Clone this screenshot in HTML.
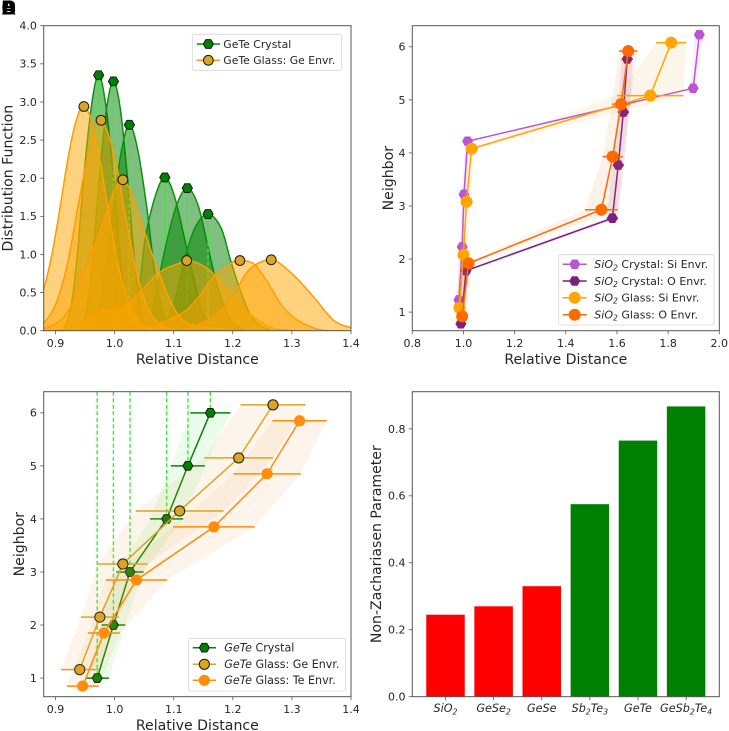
<!DOCTYPE html>
<html lang="en">
<head>
<meta charset="utf-8">
<title>Distribution and Non-Zachariasen Parameter Charts</title>
<style>
html,body{margin:0;padding:0;background:#fff;}
#fig{display:block;width:729px;height:731px;font-family:"DejaVu Sans","Liberation Sans",sans-serif;filter:blur(0.35px);}
</style>
</head>
<body>
<svg id="fig" xmlns="http://www.w3.org/2000/svg" width="729" height="731" viewBox="0 0 729 731"></svg>
<script>
/* ---------- Panel A data: distribution curves ---------- */
const crystalCurveX = [
  [.914,.921,.929,.938,.948,.961,.973,.985,.998,1.008,1.017,1.025,1.032],
  [.94,.948,.956,.964,.974,.986,.998,1.01,1.022,1.032,1.041,1.049,1.056],
  [.959,.967,.975,.985,.998,1.012,1.025,1.039,1.054,1.066,1.077,1.087,1.097],
  [1.015,1.025,1.033,1.043,1.052,1.069,1.085,1.101,1.118,1.135,1.147,1.158,1.169],
  [1.043,1.053,1.063,1.073,1.087,1.105,1.123,1.141,1.157,1.173,1.189,1.203,1.218],
  [1.071,1.083,1.093,1.105,1.118,1.136,1.158,1.18,1.196,1.214,1.23,1.246,1.263]
];
const crystalCurveY = [
  [.037,.147,.453,1.09,2.03,2.96,3.35,2.96,2.03,1.09,.453,.147,.037],
  [.036,.144,.442,1.06,1.98,2.89,3.27,2.89,1.98,1.06,.442,.144,.036],
  [.03,.119,.365,.877,1.64,2.38,2.70,2.38,1.64,.877,.365,.119,.03],
  [.022,.088,.272,.653,1.22,1.77,2.01,1.77,1.22,.653,.272,.088,.022],
  [.021,.082,.253,.607,1.13,1.65,1.87,1.65,1.13,.607,.253,.082,.021],
  [.017,.067,.207,.497,.928,1.35,1.53,1.35,.928,.497,.207,.067,.017]
];
const glassCurveX = [
  [.87,.88,.89,.90,.91,.92,.93,.94,.948,.96,.97,.98,.99,1.0,1.01,1.02,1.03,1.04,1.05,1.06,1.08],
  [.87,.88,.90,.92,.94,.96,.977,1.0,1.02,1.04,1.06,1.08,1.10,1.12],
  [.87,.89,.913,.93,.947,.965,.98,1.0,1.014,1.03,1.048,1.065,1.082,1.095,1.11,1.125,1.14,1.16,1.2],
  [.90,.93,.95,.97,.99,1.01,1.03,1.05,1.07,1.088,1.105,1.122,1.145,1.167,1.2,1.235,1.27,1.31],
  [1.0,1.03,1.065,1.095,1.122,1.145,1.167,1.2,1.212,1.235,1.257,1.285,1.313,1.35,1.39],
  [1.09,1.124,1.158,1.18,1.2,1.228,1.265,1.30,1.336,1.37,1.4,1.42]
];
const glassCurveY = [
  [.38,.55,.86,1.26,1.73,2.21,2.61,2.87,2.94,2.79,2.46,2.02,1.54,1.10,.72,.44,.25,.13,.065,.03,0],
  [.06,.10,.34,.87,1.71,2.49,2.76,2.29,1.44,.68,.24,.065,.01,0],
  [.01,.05,.17,.38,.75,1.1,1.4,1.85,1.98,1.78,1.36,.97,.62,.38,.18,.09,.06,.04,.01],
  [0,.04,.14,.25,.27,.29,.40,.56,.73,.82,.87,.92,.87,.75,.45,.18,.03,0],
  [0,.01,.07,.16,.27,.47,.70,.90,.92,.88,.66,.31,.12,.01,0],
  [0,.03,.14,.27,.45,.80,.93,.75,.45,.14,.04,.01]
];
const crystalPeakX = [.973,.998,1.025,1.085,1.123,1.158];
const crystalPeakY = [3.35,3.27,2.70,2.01,1.87,1.53];
const glassPeakX = [.948,.977,1.014,1.122,1.212,1.265];
const glassPeakY = [2.94,2.76,1.98,.92,.92,.93];
const panelAXTicks = [0.9,1.0,1.1,1.2,1.3,1.4];
const panelAYTicks = [0,0.5,1,1.5,2,2.5,3,3.5,4];

/* ---------- Panel B data: SiO2 neighbors ---------- */
const sioCrystalSiX = [.982,.995,1.002,1.016,1.898,1.922];
const sioCrystalSiY = [1.23,2.23,3.22,4.22,5.22,6.23];
const sioCrystalSiErr = [.01,.01,.008,.01,.012,.018];
const sioCrystalOX = [.99,1.01,1.582,1.605,1.625,1.64];
const sioCrystalOY = [.78,1.78,2.77,3.77,4.77,5.77];
const sioCrystalOErr = [.01,.012,.022,.022,.022,.022];
const sioGlassSiX = [.984,1.0,1.012,1.032,1.73,1.812];
const sioGlassSiY = [1.08,2.08,3.08,4.08,5.08,6.08];
const sioGlassSiErr = [.012,.015,.012,.015,.13,.059];
const sioGlassOX = [.995,1.02,1.539,1.583,1.616,1.644];
const sioGlassOY = [.92,1.92,2.93,3.93,4.92,5.92];
const sioGlassOErr = [.015,.015,.064,.039,.036,.036];
const panelBXTicks = [0.8,1.0,1.2,1.4,1.6,1.8,2.0];
const neighborTicks = [1,2,3,4,5,6];

/* ---------- Panel C data: GeTe neighbors ---------- */
const geteCrystalX = [.9705,.998,1.026,1.088,1.124,1.162];
const geteCrystalY = [1,2,3,4,5,6];
const geteCrystalErr = [.02,.02,.023,.028,.029,.034];
const geteGlassGeX = [.941,.975,1.014,1.11,1.21,1.268];
const geteGlassGeY = [1.16,2.15,3.15,4.15,5.15,6.15];
const geteGlassGeErr = [.032,.032,.042,.0745,.058,.055];
const geteGlassTeX = [.946,.982,1.037,1.168,1.258,1.313];
const geteGlassTeY = [.85,1.85,2.85,3.85,4.85,5.85];
const geteGlassTeErr = [.027,.027,.052,.069,.057,.046];

/* ---------- Panel D data: bars ---------- */
const barCategories = ['SiO_2','GeSe_2','GeSe','Sb_2Te_3','GeTe','GeSb_2Te_4'];
const barValues = [.245,.27,.33,.575,.765,.867];
const barColors = ['#ff0000','#ff0000','#ff0000','#008000','#008000','#008000'];
const panelDYTicks = [0,0.2,0.4,0.6,0.8];

/* ---------- helpers ---------- */
const NS = 'http://www.w3.org/2000/svg';
const fig = document.getElementById('fig');
const TXT = '#262626';
const SPINE = '#555555';

function el(parent, tag, attrs) {
  const e = document.createElementNS(NS, tag);
  for (const k in attrs) e.setAttribute(k, attrs[k]);
  parent.appendChild(e);
  return e;
}
function named(e, name, interactive) {
  
  
  return e;
}
function group(parent, name) {
  return named(el(parent, 'g', {}), name, false);
}
function addSegments(t, label, italic, size) {
  /* "_" marks the next digit as a subscript */
  let i = 0;
  let pendingDy = 0;
  while (i < label.length) {
    if (label[i] === '_') {
      const s = el(t, 'tspan', {dy: size * 0.2, 'font-size': size * 0.7, 'font-style': italic ? 'italic' : 'normal'});
      s.textContent = label[i + 1];
      pendingDy = -size * 0.2;
      i += 2;
    } else {
      let j = i;
      while (j < label.length && label[j] !== '_') j++;
      const s = el(t, 'tspan', {dy: pendingDy, 'font-style': italic ? 'italic' : 'normal'});
      s.textContent = label.slice(i, j);
      pendingDy = 0;
      i = j;
    }
  }
  return pendingDy;
}
function label(parent, x, y, str, size, anchor, name, rotate) {
  const attrs = {x: x, y: y, 'font-size': size, 'text-anchor': anchor, fill: TXT};
  if (rotate) attrs.transform = 'rotate(-90 ' + x + ' ' + y + ')';
  const t = el(parent, 'text', attrs);
  t.textContent = str;
  
  
  return t;
}
function makeAxes(name, box, xMin, xMax, yMin, yMax) {
  const g = group(fig, name);
  const a = {
    g: g, box: box,
    x: v => box.l + (v - xMin) / (xMax - xMin) * (box.r - box.l),
    y: v => box.b - (v - yMin) / (yMax - yMin) * (box.b - box.t)
  };
  const cid = 'clip-' + name;
  const defs = el(g, 'defs', {});
  const cp = el(defs, 'clipPath', {id: cid});
  el(cp, 'rect', {x: box.l, y: box.t, width: box.r - box.l, height: box.b - box.t});
  a.plot = group(g, name + '-plot-area');
  a.plot.setAttribute('clip-path', 'url(#' + cid + ')');
  return a;
}
function finishAxes(a, name, xTicks, yTicks, xFmt, yFmt, xTitle, yTitle, yTitleX) {
  const b = a.box;
  const frame = el(a.g, 'rect', {x: b.l, y: b.t, width: b.r - b.l, height: b.b - b.t, fill: 'none', stroke: SPINE, 'stroke-width': 1});
  
  
  xTicks.forEach(v => {
    const px = a.x(v);
    const m = el(a.g, 'line', {x1: px, x2: px, y1: b.b, y2: b.b + 3.5, stroke: SPINE, 'stroke-width': 0.8});
    
    
    label(a.g, px, b.b + 16.3, xFmt(v), 11, 'middle', name + '-x-tick-label');
  });
  yTicks.forEach(v => {
    const py = a.y(v);
    const m = el(a.g, 'line', {x1: b.l - 3.5, x2: b.l, y1: py, y2: py, stroke: SPINE, 'stroke-width': 0.8});
    
    
    label(a.g, b.l - 6.8, py + 3.9, yFmt(v), 11, 'end', name + '-y-tick-label');
  });
  if (xTitle) label(a.g, (b.l + b.r) / 2, b.b + 33.3, xTitle, 14.1, 'middle', name + '-x-axis-title');
  if (yTitle) label(a.g, yTitleX, (b.t + b.b) / 2, yTitle, 14.1, 'middle', name + '-y-axis-title', true);
}
function smoothPath(pts) {
  let d = 'M' + pts[0][0].toFixed(2) + ' ' + pts[0][1].toFixed(2);
  for (let i = 0; i < pts.length - 1; i++) {
    const p0 = pts[Math.max(i - 1, 0)], p1 = pts[i], p2 = pts[i + 1], p3 = pts[Math.min(i + 2, pts.length - 1)];
    const c1x = p1[0] + (p2[0] - p0[0]) / 6, c1y = p1[1] + (p2[1] - p0[1]) / 6;
    const c2x = p2[0] - (p3[0] - p1[0]) / 6, c2y = p2[1] - (p3[1] - p1[1]) / 6;
    d += 'C' + c1x.toFixed(2) + ' ' + c1y.toFixed(2) + ' ' + c2x.toFixed(2) + ' ' + c2y.toFixed(2) + ' ' + p2[0].toFixed(2) + ' ' + p2[1].toFixed(2);
  }
  return d;
}
function hexPoints(cx, cy, r) {
  let s = '';
  for (let i = 0; i < 6; i++) {
    const t = Math.PI / 3 * i;
    s += (cx + r * Math.cos(t)).toFixed(2) + ',' + (cy + r * Math.sin(t)).toFixed(2) + ' ';
  }
  return s;
}
function marker(parent, shape, cx, cy, r, fill, edge, name) {
  let m;
  if (shape === 'hex') {
    m = el(parent, 'polygon', {points: hexPoints(cx, cy, r), fill: fill});
  } else {
    m = el(parent, 'circle', {cx: cx, cy: cy, r: r, fill: fill});
  }
  if (edge) {
    m.setAttribute('stroke', edge);
    m.setAttribute('stroke-width', 1);
  }
  
  
  return m;
}
function drawSeries(a, s) {
  const g = group(a.plot, s.name + '-series');
  /* shaded band between x-err and x+err */
  const left = s.xs.map((v, i) => a.x(v - s.err[i]).toFixed(2) + ',' + a.y(s.ys[i]).toFixed(2));
  const right = s.xs.map((v, i) => a.x(v + s.err[i]).toFixed(2) + ',' + a.y(s.ys[i]).toFixed(2)).reverse();
  const band = el(g, 'polygon', {points: left.concat(right).join(' '), fill: s.band, 'fill-opacity': s.bandOpacity});
  
  
  const ln = el(g, 'polyline', {points: s.xs.map((v, i) => a.x(v).toFixed(2) + ',' + a.y(s.ys[i]).toFixed(2)).join(' '), fill: 'none', stroke: s.line, 'stroke-width': 1.5});
  
  
  s.xs.forEach((v, i) => {
    const eb = el(g, 'line', {x1: a.x(v - s.err[i]), x2: a.x(v + s.err[i]), y1: a.y(s.ys[i]), y2: a.y(s.ys[i]), stroke: s.line, 'stroke-width': 1.5});
    
    
  });
  s.xs.forEach((v, i) => {
    marker(g, s.shape, a.x(v), a.y(s.ys[i]), s.r, s.fill, s.edge, s.name + '-point');
  });
}
function legend(name, box, rows, handleL, handleR, textX, size) {
  const g = group(fig, name);
  const r = el(g, 'rect', {x: box.l, y: box.t, width: box.r - box.l, height: box.b - box.t, rx: 2, fill: '#ffffff', 'fill-opacity': 0.85, stroke: '#d6d6d6', 'stroke-width': 0.8});
  
  
  rows.forEach(row => {
    const e = group(g, 'legend-entry');
    const l = el(e, 'line', {x1: handleL, x2: handleR, y1: row.y, y2: row.y, stroke: row.line, 'stroke-width': 1.5});
    
    
    marker(e, row.shape, (handleL + handleR) / 2, row.y, row.r, row.fill, row.edge, 'legend-marker');
    const t = el(e, 'text', {x: textX, y: row.y + 3.8, 'font-size': size, fill: TXT});
    
    
    let back = 0;
    if (row.math) back = addSegments(t, row.math, true, size);
    const rest = el(t, 'tspan', {dy: back});
    rest.textContent = row.text;
  });
}
const fmt1 = v => v.toFixed(1);
const fmtInt = v => String(v);

/* ---------- Panel A ---------- */
(function () {
  const a = makeAxes('panel-a', {l: 43.7, r: 351, t: 25.7, b: 330.7}, 0.88, 1.4, 0, 4);
  function area(xs, ys, fill, stroke, name, opacity) {
    const pts = xs.map((v, i) => [a.x(v), a.y(ys[i])]);
    const line = smoothPath(pts);
    const f = el(a.plot, 'path', {d: line + 'L' + pts[pts.length - 1][0].toFixed(2) + ' ' + a.y(0) + 'L' + pts[0][0].toFixed(2) + ' ' + a.y(0) + 'Z', fill: fill, 'fill-opacity': opacity});
    
    
    const s = el(a.plot, 'path', {d: line, fill: 'none', stroke: stroke, 'stroke-width': 1.5});
    
    
  }
  crystalCurveX.forEach((xs, i) => {
    area(xs, crystalCurveY[i], '#008000', '#0b940b', 'crystal-peak', 0.5);
    const d = el(a.plot, 'line', {x1: a.x(crystalPeakX[i]), x2: a.x(crystalPeakX[i]), y1: a.y(0), y2: a.y(crystalPeakY[i]), stroke: '#33ee33', 'stroke-width': 1.4, 'stroke-dasharray': '4 2.5'});
    
    
  });
  glassCurveX.forEach((xs, i) => {
    area(xs, glassCurveY[i], '#ffa500', '#ff9c00', 'glass-peak', 0.5);
  });
  crystalPeakX.forEach((v, i) => {
    marker(a.plot, 'hex', a.x(v), a.y(crystalPeakY[i]), 5.1, '#008000', '#1a1a1a', 'crystal-peak-point');
  });
  glassPeakX.forEach((v, i) => {
    marker(a.plot, 'circle', a.x(v), a.y(glassPeakY[i]), 4.9, '#daa520', '#1a1a1a', 'glass-peak-point');
  });
  finishAxes(a, 'panel-a', panelAXTicks, panelAYTicks, fmt1, fmt1, 'Relative Distance', 'Distribution Function', 12.5);
  legend('panel-a-legend', {l: 192.3, r: 341.7, t: 34.3, b: 70.3}, [
    {y: 44, line: '#0b940b', shape: 'hex', r: 5.1, fill: '#008000', edge: '#1a1a1a', text: 'GeTe Crystal'},
    {y: 60.3, line: '#ff9c00', shape: 'circle', r: 4.9, fill: '#daa520', edge: '#1a1a1a', text: 'GeTe Glass: Ge Envr.'}
  ], 196.7, 220, 223.3, 10.85);
})();

/* ---------- Panel B ---------- */
(function () {
  const a = makeAxes('panel-b', {l: 412.3, r: 719.3, t: 25.7, b: 330.7}, 0.8, 2.0, 0.6496, 6.398);
  drawSeries(a, {name: 'sio2-crystal-si', xs: sioCrystalSiX, ys: sioCrystalSiY, err: sioCrystalSiErr, line: '#ba55d3', fill: '#ba55d3', band: '#ba55d3', bandOpacity: 0.1, shape: 'hex', r: 5.5});
  drawSeries(a, {name: 'sio2-crystal-o', xs: sioCrystalOX, ys: sioCrystalOY, err: sioCrystalOErr, line: '#7d1f7d', fill: '#7d1f7d', band: '#7d1f7d', bandOpacity: 0.1, shape: 'hex', r: 5.5});
  drawSeries(a, {name: 'sio2-glass-si', xs: sioGlassSiX, ys: sioGlassSiY, err: sioGlassSiErr, line: '#ffa500', fill: '#ffa500', band: '#e0a030', bandOpacity: 0.1, shape: 'circle', r: 6});
  drawSeries(a, {name: 'sio2-glass-o', xs: sioGlassOX, ys: sioGlassOY, err: sioGlassOErr, line: '#ff6a00', fill: '#ff6a00', band: '#e08030', bandOpacity: 0.1, shape: 'circle', r: 6});
  finishAxes(a, 'panel-b', panelBXTicks, neighborTicks, fmt1, fmtInt, 'Relative Distance', 'Neighbor', 393);
  legend('panel-b-legend', {l: 558.7, r: 714, t: 254.7, b: 325}, [
    {y: 264.3, line: '#ba55d3', shape: 'hex', r: 5.5, fill: '#ba55d3', math: 'SiO_2', text: ' Crystal: Si Envr.'},
    {y: 281, line: '#7d1f7d', shape: 'hex', r: 5.5, fill: '#7d1f7d', math: 'SiO_2', text: ' Crystal: O Envr.'},
    {y: 297.7, line: '#ffa500', shape: 'circle', r: 6, fill: '#ffa500', math: 'SiO_2', text: ' Glass: Si Envr.'},
    {y: 314.7, line: '#ff6a00', shape: 'circle', r: 6, fill: '#ff6a00', math: 'SiO_2', text: ' Glass: O Envr.'}
  ], 562.7, 586.7, 594.3, 11);
})();

/* ---------- Panel C ---------- */
(function () {
  const a = makeAxes('panel-c', {l: 43.7, r: 351, t: 391.7, b: 696.7}, 0.88, 1.4, 0.6496, 6.398);
  crystalLines(a);
  drawSeries(a, {name: 'gete-crystal', xs: geteCrystalX, ys: geteCrystalY, err: geteCrystalErr, line: '#0a800a', fill: '#008000', edge: '#1a1a1a', band: '#33ee33', bandOpacity: 0.1, shape: 'hex', r: 5});
  drawSeries(a, {name: 'gete-glass-ge', xs: geteGlassGeX, ys: geteGlassGeY, err: geteGlassGeErr, line: '#daa520', fill: '#daa520', edge: '#1a1a1a', band: '#e8a040', bandOpacity: 0.1, shape: 'circle', r: 5.1});
  drawSeries(a, {name: 'gete-glass-te', xs: geteGlassTeX, ys: geteGlassTeY, err: geteGlassTeErr, line: '#ff8c0a', fill: '#ff8c0a', band: '#e8a040', bandOpacity: 0.1, shape: 'circle', r: 5.6});
  finishAxes(a, 'panel-c', panelAXTicks.slice(), neighborTicks, fmt1, fmtInt, 'Relative Distance', 'Neighbor', 24);
  legend('panel-c-legend', {l: 188.7, r: 345.7, t: 638.3, b: 691}, [
    {y: 647.7, line: '#0a800a', shape: 'hex', r: 5, fill: '#008000', edge: '#1a1a1a', math: 'GeTe', text: ' Crystal'},
    {y: 664.3, line: '#daa520', shape: 'circle', r: 5.1, fill: '#daa520', edge: '#1a1a1a', math: 'GeTe', text: ' Glass: Ge Envr.'},
    {y: 680.3, line: '#ff8c0a', shape: 'circle', r: 5.6, fill: '#ff8c0a', math: 'GeTe', text: ' Glass: Te Envr.'}
  ], 192.7, 216, 224.3, 11.1);
})();
function crystalLines(a) {
  geteCrystalX.forEach((v, i) => {
    const d = el(a.plot, 'line', {x1: a.x(v), x2: a.x(v), y1: a.box.t, y2: a.y(geteCrystalY[i]), stroke: '#33ee33', 'stroke-width': 1.4, 'stroke-dasharray': '4 2.5'});
    
    
  });
}

/* ---------- Panel D ---------- */
(function () {
  const a = makeAxes('panel-d', {l: 412.3, r: 719.3, t: 391.7, b: 696.7}, -0.69, 5.69, 0, 0.911);
  barValues.forEach((v, i) => {
    const x0 = a.x(i - 0.4), x1 = a.x(i + 0.4);
    const b = el(a.plot, 'rect', {x: x0, y: a.y(v), width: x1 - x0, height: a.y(0) - a.y(v), fill: barColors[i]});
    
    
  });
  finishAxes(a, 'panel-d', [], panelDYTicks, fmt1, fmt1, null, 'Non-Zachariasen Parameter', 381);
  barCategories.forEach((c, i) => {
    const px = a.x(i);
    const m = el(a.g, 'line', {x1: px, x2: px, y1: a.box.b, y2: a.box.b + 3.5, stroke: SPINE, 'stroke-width': 0.8});
    
    
    const t = el(a.g, 'text', {x: px, y: a.box.b + 15.5, 'font-size': 11.2, 'text-anchor': 'middle', fill: TXT});
    
    
    addSegments(t, c, true, 11.2);
  });
})();

/* ---------- overlapped panel letters ---------- */
(function () {
  const g = group(fig, 'panel-letters');
  ['A', 'B', 'C', 'D'].forEach(ch => {
    const t = el(g, 'text', {x: 1.5, y: 14.5, 'font-size': 20, 'font-weight': 'bold', fill: '#000', 'font-family': '"Liberation Sans",sans-serif'});
    t.textContent = ch;
    
    
  });
})();
</script>
</body>
</html>
